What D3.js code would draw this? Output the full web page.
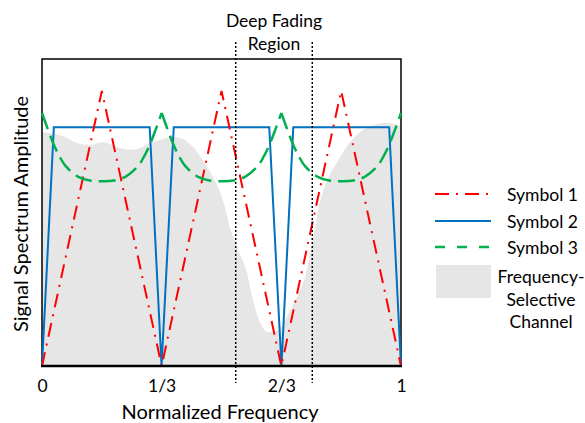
<!doctype html>
<html>
<head>
<style>
body { margin:0; background:#fff; }
svg { display:block; font-family: Lato, "Open Sans", sans-serif; }
</style>
</head>
<body>
<svg width="585" height="423" id="chart"></svg>
<script src="https://d3js.org/d3.v7.min.js"></script>
<script>
// x ticks
var freqTicks = [0, 1/3, 2/3, 1];
var freqTickLabels = ["0", "1/3", "2/3", "1"];

// symbol 1 (triangles)
var sym1X = [0, 1/6, 1/3, 1/2, 2/3, 5/6, 1];
var sym1Y = [0, 0.896, 0, 0.896, 0, 0.896, 0];

// symbol 2 (trapezoids)
var sym2X = [0, 0.033, 0.300, 0.333, 0.367, 0.633, 0.667, 0.700, 0.967, 1];
var sym2Y = [0, 0.778, 0.778, 0, 0.778, 0.778, 0, 0.778, 0.778, 0];

// symbol 3 - one bowl per symbol period
var symbolStarts = [0, 1/3, 2/3];
var sym3Phase = [0, 0.05, 0.1, 0.15, 0.2, 0.3, 0.4, 0.5, 0.6, 0.7, 0.8, 0.85, 0.9, 0.95, 1];
var sym3Y = [0.824, 0.770, 0.720, 0.680, 0.650, 0.617, 0.604, 0.602, 0.604, 0.617, 0.650, 0.680, 0.720, 0.770, 0.824];

// frequency selective channel (upper edge)
var chanX = [0, 0.022, 0.070, 0.097, 0.134, 0.170, 0.209, 0.245, 0.273, 0.301, 0.329, 0.362, 0.393,
             0.421, 0.448, 0.476, 0.499, 0.513, 0.524, 0.543, 0.571, 0.588, 0.607, 0.630, 0.655,
             0.691, 0.719, 0.738, 0.749, 0.760, 0.769, 0.780, 0.797, 0.822, 0.850, 0.886, 0.919, 0.955, 1];
var chanY = [0.762, 0.759, 0.743, 0.726, 0.720, 0.730, 0.713, 0.704, 0.710, 0.726, 0.736, 0.746, 0.739,
             0.713, 0.671, 0.616, 0.557, 0.502, 0.450, 0.388, 0.303, 0.215, 0.143, 0.111, 0.114,
             0.182, 0.248, 0.313, 0.378, 0.443, 0.508, 0.557, 0.612, 0.664, 0.717, 0.762, 0.782, 0.792, 0.782];

var fadeEdges = [0.5396, 0.7529];

var legendItems = ["Symbol 1", "Symbol 2", "Symbol 3"];
var channelLabel = ["Frequency-", "Selective", "Channel"];

var red = "#ff0000", blue = "#0070c0", green = "#00b050", grey = "#e6e6e6";

var svg = d3.select("#chart");
var x = d3.scaleLinear().domain([0, 1]).range([42, 401]);
var y = d3.scaleLinear().domain([0, 1]).range([366, 59]);

// channel
var chan = chanX.map(function(v, i) { return [v, chanY[i]]; });
svg.append("path")
    .datum(chan)
    .attr("fill", grey)
    .attr("d", d3.area()
        .x(function(d) { return x(d[0]); })
        .y0(y(0))
        .y1(function(d) { return y(d[1]); })
        .curve(d3.curveMonotoneX));

// frame
svg.append("path")
    .attr("d", "M" + x(0) + "," + y(0) + "V" + y(1) + "H" + x(1) + "V" + y(0))
    .attr("fill", "none").attr("stroke", "#000").attr("stroke-width", 1.5);

var line = d3.line().x(function(d) { return x(d[0]); }).y(function(d) { return y(d[1]); });

svg.append("path")
    .datum(sym2X.map(function(v, i) { return [v, sym2Y[i]]; }))
    .attr("fill", "none").attr("stroke", blue).attr("stroke-width", 2)
    .attr("stroke-linejoin", "miter")
    .attr("d", line);

svg.append("path")
    .datum(sym1X.map(function(v, i) { return [v, sym1Y[i]]; }))
    .attr("fill", "none").attr("stroke", red).attr("stroke-width", 2)
    .attr("stroke-dasharray", "14,7,2,7")
    .attr("d", line);

var bowl = d3.line().x(function(d) { return x(d[0]); }).y(function(d) { return y(d[1]); })
    .curve(d3.curveCatmullRom);
symbolStarts.forEach(function(s) {
  svg.append("path")
      .datum(sym3Phase.map(function(p, i) { return [s + p / 3, sym3Y[i]]; }))
      .attr("fill", "none").attr("stroke", green).attr("stroke-width", 2.5)
      .attr("stroke-dasharray", "17,7")
      .attr("d", bowl);
});

// bottom axis line
svg.append("line")
    .attr("x1", x(0) - 1).attr("x2", x(1) + 1)
    .attr("y1", y(0)).attr("y2", y(0))
    .attr("stroke", "#000").attr("stroke-width", 2.5);

// deep fading markers
svg.selectAll(".fade").data(fadeEdges).enter().append("line")
    .attr("class", "fade")
    .attr("x1", function(d) { return x(d); }).attr("x2", function(d) { return x(d); })
    .attr("y1", 42).attr("y2", 383)
    .attr("stroke", "#000").attr("stroke-width", 1.5)
    .attr("stroke-dasharray", "2,2");

svg.append("text").attr("x", 274).attr("y", 27).attr("text-anchor", "middle")
    .attr("font-size", 17.5).text("Deep Fading");
svg.append("text").attr("x", 274).attr("y", 50).attr("text-anchor", "middle")
    .attr("font-size", 17.5).text("Region");

// x axis labels
var xAxis = d3.axisBottom(x).tickValues(freqTicks).tickSize(0)
    .tickFormat(function(d, i) { return freqTickLabels[i]; });
var gx = svg.append("g").attr("transform", "translate(0," + y(0) + ")").call(xAxis);
gx.select(".domain").remove();
gx.selectAll("text").attr("y", 26).attr("dy", null)
    .attr("font-family", "Lato, sans-serif").attr("font-size", 17.5).attr("fill", "#000");

svg.append("text").attr("x", 220).attr("y", 419).attr("text-anchor", "middle")
    .attr("font-size", 20).text("Normalized Frequency");
svg.append("text").attr("transform", "translate(28,214) rotate(-90)")
    .attr("text-anchor", "middle").attr("font-size", 20).text("Signal Spectrum Amplitude");

// legend
var legY = [194, 221, 247];
var legStyle = [
  {c: red, w: 2, dash: "14,7,2,7"},
  {c: blue, w: 2, dash: null},
  {c: green, w: 2.5, dash: "10,12"}
];
legendItems.forEach(function(t, i) {
  svg.append("line").attr("x1", 435).attr("x2", 491)
      .attr("y1", legY[i]).attr("y2", legY[i])
      .attr("stroke", legStyle[i].c).attr("stroke-width", legStyle[i].w)
      .attr("stroke-dasharray", legStyle[i].dash);
  svg.append("text").attr("x", 507).attr("y", legY[i] + 7)
      .attr("font-size", 17.5).text(t);
});
svg.append("rect").attr("x", 436).attr("y", 265).attr("width", 55).attr("height", 33)
    .attr("fill", grey);
svg.selectAll(".chan").data(channelLabel).enter().append("text")
    .attr("class", "chan")
    .attr("x", 541).attr("y", function(d, i) { return 283 + i * 22.5; })
    .attr("text-anchor", "middle").attr("font-size", 17.5).text(function(d) { return d; });
</script>
</body>
</html>
